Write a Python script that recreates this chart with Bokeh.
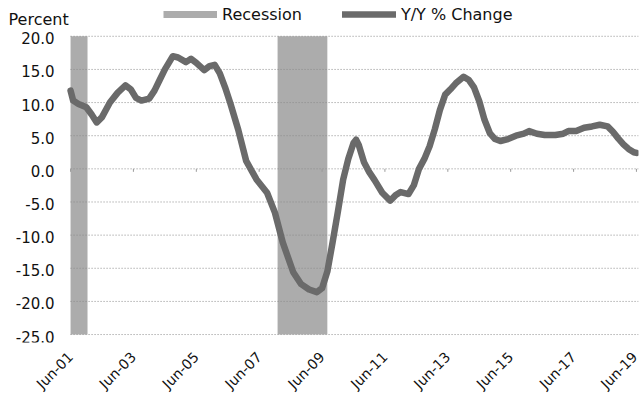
import math
import pandas as pd
from bokeh.plotting import figure
from bokeh.models import (ColumnDataSource, FixedTicker, Range1d, Legend, LegendItem, Label,
                          DatetimeTickFormatter)
from bokeh.core.properties import value
from bokeh.embed import file_html
from bokeh.resources import INLINE

# ---- data ----
months = ["2001-06", "2001-07", "2001-09", "2001-12", "2002-02", "2002-04", "2002-06", "2002-09",
          "2002-12", "2003-03", "2003-05", "2003-07", "2003-09", "2003-12", "2004-02", "2004-04",
          "2004-06", "2004-09", "2004-11", "2005-02", "2005-04", "2005-06", "2005-09", "2005-11",
          "2006-01", "2006-03", "2006-05", "2006-07", "2006-10", "2007-01", "2007-05", "2007-09",
          "2007-12", "2008-03", "2008-07", "2008-10", "2009-01", "2009-04", "2009-06", "2009-08",
          "2009-10", "2009-12", "2010-02", "2010-04", "2010-06", "2010-07", "2010-08", "2010-10",
          "2010-12", "2011-02", "2011-05", "2011-08", "2011-10", "2011-12", "2012-03", "2012-05",
          "2012-07", "2012-09", "2012-11", "2013-01", "2013-03", "2013-05", "2013-07", "2013-09",
          "2013-12", "2014-02", "2014-04", "2014-06", "2014-08", "2014-10", "2014-12", "2015-02",
          "2015-05", "2015-08", "2015-11", "2016-01", "2016-04", "2016-07", "2016-11", "2017-02",
          "2017-04", "2017-07", "2017-10", "2018-01", "2018-04", "2018-07", "2018-09", "2018-11",
          "2019-01", "2019-03", "2019-05", "2019-06"]
yoy_change = [11.8, 10.3, 9.8, 9.3, 8.2, 7.0, 7.8, 10.0,
              11.5, 12.6, 12.0, 10.7, 10.3, 10.6, 11.8, 13.4,
              15.0, 17.0, 16.8, 16.1, 16.6, 16.0, 14.9, 15.5,
              15.7, 14.4, 12.3, 9.9, 5.9, 1.2, -1.6, -3.6,
              -6.6, -11.1, -15.6, -17.4, -18.2, -18.6, -18.0, -15.5,
              -11.1, -6.5, -1.6, 1.5, 3.9, 4.4, 3.6, 1.0,
              -0.5, -1.7, -3.6, -4.8, -4.0, -3.5, -3.8, -2.5,
              0.0, 1.5, 3.4, 6.0, 8.9, 11.2, 12.0, 12.9,
              13.9, 13.4, 12.3, 10.2, 7.4, 5.4, 4.5, 4.2,
              4.5, 5.0, 5.3, 5.7, 5.3, 5.1, 5.1, 5.3,
              5.7, 5.7, 6.2, 6.4, 6.65, 6.4, 5.6, 4.6,
              3.7, 3.0, 2.5, 2.4]

# recession shading as visible in the chart (first one is cut at the chart's left edge)
recession_start = ["2001-06-01", "2008-01-01"]
recession_end = ["2001-12-15", "2009-08-01"]

tick_dates = ["2001-06-01", "2003-06-01", "2005-06-01", "2007-06-01", "2009-06-01",
              "2011-06-01", "2013-06-01", "2015-06-01", "2017-06-01", "2019-06-01"]
tick_labels = ["Jun-01", "Jun-03", "Jun-05", "Jun-07", "Jun-09",
               "Jun-11", "Jun-13", "Jun-15", "Jun-17", "Jun-19"]
y_ticks = [-25, -20, -15, -10, -5, 0, 5, 10, 15, 20]
y_tick_labels = ["-25.0", "-20.0", "-15.0", "-10.0", "-5.0", "0.0", "5.0", "10.0", "15.0", "20.0"]

FONT = "DejaVu Sans"
BAND = "#acacac"
LINE = "#6a6a6a"
TXT = "#111111"
GRID = "#8c8c8c"

# visible extent of the axes (left part and top are room for labels and legend)
view_start = pd.Timestamp("1999-03-10")
view_end = pd.Timestamp("2019-06-25")
view_bottom = -26.2
view_top = 25.4
plot_left = pd.Timestamp(tick_dates[0])


def ms(s):
    return float(pd.Timestamp(s).value // 10**6)


x_vals = [pd.Timestamp(m + "-01") for m in months]
line_src = ColumnDataSource(dict(x=x_vals, y=yoy_change))
rec_src = ColumnDataSource(dict(left=[pd.Timestamp(s) for s in recession_start],
                                right=[pd.Timestamp(s) for s in recession_end],
                                top=[max(y_ticks)] * 2, bottom=[min(y_ticks)] * 2))
grid_src = ColumnDataSource(dict(x0=[plot_left] * len(y_ticks), x1=[view_end] * len(y_ticks),
                                 y=y_ticks, label=y_tick_labels))
tick_ms = [ms(t) for t in tick_dates]
tick_src = ColumnDataSource(dict(x=[pd.Timestamp(t) for t in tick_dates],
                                 y0=[0] * len(tick_dates), y1=[-0.45] * len(tick_dates)))

p = figure(width=640, height=400, output_backend="svg", toolbar_location=None,
           x_axis_type="datetime", title=None,
           x_range=Range1d(view_start, view_end),
           y_range=Range1d(view_bottom, view_top),
           min_border_left=0, min_border_right=2, min_border_top=0, min_border_bottom=56)
p.outline_line_color = None
p.background_fill_color = "white"
p.grid.visible = False
p.yaxis.visible = False

# recession bands
rec = p.quad(left="left", right="right", top="top", bottom="bottom", source=rec_src,
             fill_color=BAND, line_color=None)
# swatch used by the legend for the recession entry (a thin bar, as in the original key)
rec_key = p.segment(x0="left", x1="right", y0="bottom", y1="bottom", source=rec_src,
                    line_color=BAND, line_width=7)
rec_key.visible = False

# horizontal grid lines
p.segment(x0="x0", x1="x1", y0="y", y1="y", source=grid_src,
          line_color=GRID, line_dash="1 2", line_width=1)

# value labels on the left
p.text(x="x0", y="y", text="label", source=grid_src, x_offset=-16, y_offset=2,
       text_align="right", text_baseline="middle", text_font=value(FONT),
       text_font_size="15px", text_color=TXT)

# small axis tick marks on the zero line
p.segment(x0="x", x1="x", y0="y0", y1="y1", source=tick_src, line_color="#9a9a9a", line_width=1)

# series line
ln = p.line(x="x", y="y", source=line_src, line_color=LINE, line_width=6.5,
            line_join="round", line_cap="round")

# x axis
ax = p.xaxis[0]
ax.axis_line_color = None
ax.major_tick_line_color = None
ax.minor_tick_line_color = None
ax.major_tick_out = 0
ax.major_tick_in = 0
ax.minor_tick_out = 0
ax.minor_tick_in = 0
ax.major_label_text_font = FONT
ax.major_label_text_font_size = "14px"
ax.major_label_text_color = TXT
ax.ticker = FixedTicker(ticks=tick_ms)
ax.formatter = DatetimeTickFormatter(years="%b-%y", months="%b-%y", days="%b-%y")
ax.major_label_overrides = {t: l for t, l in zip(tick_ms, tick_labels)}
ax.major_label_orientation = math.pi / 4
ax.major_label_standoff = 12

# axis title
p.add_layout(Label(x=8, y=323, x_units="screen", y_units="screen", text="Percent",
                   text_font=FONT, text_font_size="16px", text_color=TXT,
                   text_baseline="alphabetic"))

# legend
legend = Legend(items=[LegendItem(label="Recession", renderers=[rec_key]),
                       LegendItem(label="Y/Y % Change", renderers=[ln])],
                location=(163, 318), orientation="horizontal",
                glyph_width=54, glyph_height=8, label_height=20, label_standoff=5,
                spacing=40, padding=0, margin=0,
                inactive_fill_alpha=0,
                label_text_font=FONT, label_text_font_size="16px", label_text_color=TXT,
                border_line_color=None, background_fill_alpha=0)
p.add_layout(legend)

open("out.html", "w").write(file_html(p, INLINE))
